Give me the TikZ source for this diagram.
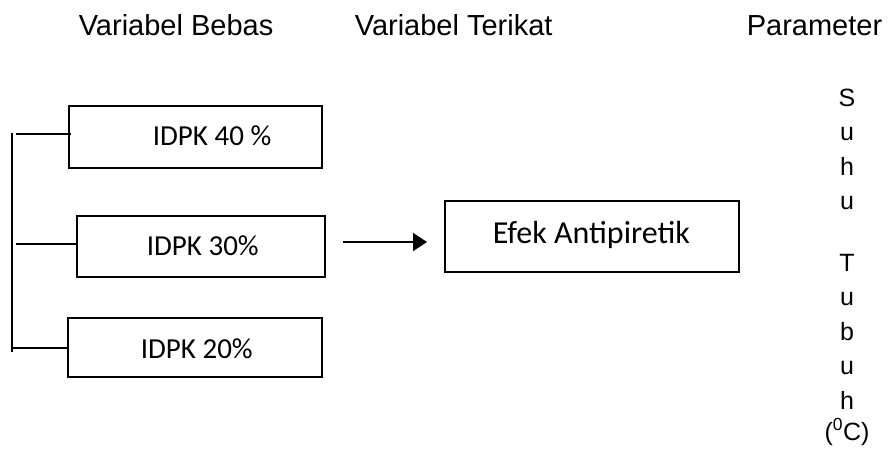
\documentclass[tikz,border=0pt]{standalone}
\usepackage{fontspec}
\setmainfont{Liberation Sans}
\newfontfamily\boxfont{Carlito}
\usetikzlibrary{arrows.meta}
\begin{document}
\begin{tikzpicture}[x=1pt,y=-1pt,
  line width=1.6pt,
  framebox/.style={draw, rectangle, inner sep=0pt},
  boxtext/.style={inner sep=0pt, anchor=base west, font=\boxfont\fontsize{29}{34}\selectfont},
  header/.style={inner sep=0pt, font=\fontsize{29}{34}\selectfont},
  vletter/.style={inner sep=0pt, anchor=base, font=\fontsize{25}{30}\selectfont},
  link/.style={draw, line width=1.6pt},
  arrowlink/.style={draw, line width=1.6pt, -{Triangle[length=14pt,width=18pt]}}
]
\useasboundingbox (0,0) rectangle (888,453);

% column headings
\node[header, anchor=base west] (hbebas) at (78,35) {Variabel Bebas};
\node[header, anchor=base west] (hterikat) at (354,35) {Variabel Terikat};
\node[header, anchor=base east] (hparam) at (883,35) {Parameter};

% independent variable boxes
\node[framebox, minimum width=253pt, minimum height=62pt] (b40) at (195.5,137) {};
\node[framebox, minimum width=248pt, minimum height=61pt] (b30) at (201,246.5) {};
\node[framebox, minimum width=254pt, minimum height=59pt] (b20) at (195,347.5) {};
\node[boxtext] (t40) at (152,145) {IDPK 40 \%};
\node[boxtext] (t30) at (146,255) {IDPK 30\%};
\node[boxtext] (t20) at (140,358) {IDPK 20\%};

% dependent variable box
\node[framebox, minimum width=294pt, minimum height=71pt] (efek) at (592,236.5) {};
\node[boxtext, font=\boxfont\fontsize{32}{38}\selectfont] (tefek) at (492,243) {Efek Antipiretik};

% bracket joining the three boxes
\coordinate (trunktop) at (12,133);
\coordinate (trunkbot) at (12,352);
\coordinate (s40) at (16,134);
\coordinate (s30) at (16,244);
\coordinate (s20) at (12,348);
\path[link] (trunktop) -- (trunkbot);
\path[link] (s40) -- (b40.west |- s40) -- ++(3,0);
\path[link] (s30) -- (b30.west |- s30);
\path[link] (s20) -- (b20.west |- s20);

% arrow towards the effect
\coordinate (astart) at (343,242);
\coordinate (aend) at (427,242);
\path[arrowlink] (astart) -- (aend);

% parameter written vertically
\foreach \ch/\yy [count=\i] in {S/106, u/140.5, h/175, u/209.5, T/271, u/305.5, b/340, u/374.5, h/409, (\textsuperscript{0}C)/440}
  \node[vletter] (p\i) at (847,\yy) {\ch};
\end{tikzpicture}
\end{document}
